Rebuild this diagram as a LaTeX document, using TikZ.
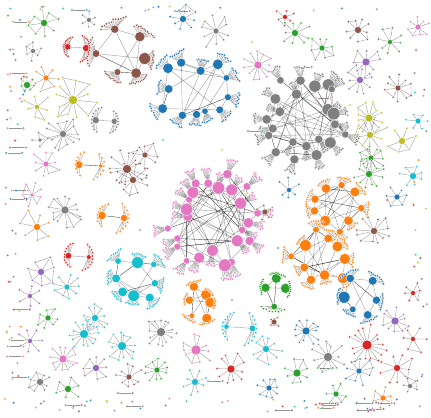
\documentclass[tikz,border=0pt]{standalone}
\usepackage{tikz}
\usetikzlibrary{calc,positioning}

\definecolor{tblue}{HTML}{1F77B4}
\definecolor{torange}{HTML}{FF7F0E}
\definecolor{tgreen}{HTML}{2CA02C}
\definecolor{tred}{HTML}{D62728}
\definecolor{tpurple}{HTML}{9467BD}
\definecolor{tbrown}{HTML}{8C564B}
\definecolor{tpink}{HTML}{E377C2}
\definecolor{tgray}{HTML}{7F7F7F}
\definecolor{tolive}{HTML}{BCBD22}
\definecolor{tcyan}{HTML}{17BECF}

\pgfdeclarelayer{bg}
\pgfsetlayers{bg,main}

\tikzset{
    hub/.style={circle, inner sep=0pt, draw=white, line width=0.3pt, minimum size=#1*0.85pt},
    leaf/.style={circle, inner sep=0pt, draw=white, line width=0.25pt, minimum size=2.3pt},
    link/.style={draw=black, draw opacity=0.42, line width=0.3pt}
}

\pgfmathdeclarerandomlist{tabcolors}{{tblue}{torange}{tgreen}{tred}{tpurple}{tbrown}{tpink}{tgray}{tolive}{tcyan}}

% star: id, x, y, colour, hub size, leaves, radius
\newcommand\hubstar[7]{%
    \node[hub=#5, fill=#4] (#1) at (#2,#3) {};
    \pgfmathsetmacro\off{360*rnd}
    \foreach \i in {1,...,#6} {
        \pgfmathsetmacro\ang{\off+360*\i/#6+20*rnd}
        \pgfmathsetmacro\rad{#7*(0.6+0.45*rnd)}
        \node[leaf, fill=#4] (#1-\i) at ($(#1)+(\ang:\rad)$) {};
    }
    \begin{pgfonlayer}{bg}
    \foreach \i in {1,...,#6} {
        \draw[link] (#1) -- (#1-\i);
        \pgfmathtruncatemacro\nx{mod(\i,#6)+1}
        \pgfmathtruncatemacro\pick{rnd<0.3}
        \ifnum\pick=1 \draw[link] (#1-\i) -- (#1-\nx);\fi
    }
    \end{pgfonlayer}
}

% community: id, cx, cy, radius, colour, hubs, leaves per hub, links per hub, max hub size
\newcommand\community[9]{%
    \foreach \j in {1,...,#6} {
        \pgfmathsetmacro\ang{360*\j/#6+10*rnd}
        \pgfmathsetmacro\rad{#4*(0.42+0.43*rnd)}
        \pgfmathsetmacro\sz{#9*(0.5+0.5*rnd)}
        \node[hub=\sz, fill=#5] (#1h\j) at ($(#2,#3)+(\ang:\rad)$) {};
        \foreach \i in {1,...,#7} {
            \pgfmathsetmacro\la{\ang+(\i/#7-0.5)*0.75*360/#6}
            \pgfmathsetmacro\lr{\rad+#4*(0.2+0.05*rnd)}
            \node[leaf, fill=#5] (#1h\j-\i) at ($(#2,#3)+(\la:\lr)$) {};
        }
    }
    \begin{pgfonlayer}{bg}
    \foreach \j in {1,...,#6} {
        \foreach \i in {1,...,#7} {
            \draw[link] (#1h\j) -- (#1h\j-\i);
        }
        \foreach \m in {1,...,#8} {
            \pgfmathtruncatemacro\k{random(1,#6)}
            \ifnum\k=\j\else \draw[link] (#1h\j) -- (#1h\k);\fi
        }
    }
    \end{pgfonlayer}
}

\begin{document}
\begin{tikzpicture}[x=0.03cm, y=-0.03cm]
    \pgfmathsetseed{7}
    \begin{pgfonlayer}{bg}
    \fill[white] (0,0) rectangle (431,417);
    \end{pgfonlayer}
    \useasboundingbox (0,0) rectangle (431,417);

    % Large communities
    \community{pk}{215}{218}{62}{tpink}{24}{7}{3}{13}
    \community{gy}{305}{120}{56}{tgray}{22}{7}{3}{13}
    \community{bl}{198}{92}{46}{tblue}{12}{8}{2}{12}
    \community{br}{128}{57}{38}{tbrown}{6}{12}{2}{12}
    \community{ora}{336}{207}{33}{torange}{9}{7}{3}{12}
    \community{orb}{320}{258}{36}{torange}{10}{7}{3}{13}
    \community{cy}{135}{280}{36}{tcyan}{8}{9}{2}{12}
    \community{ob}{200}{302}{22}{torange}{6}{8}{2}{11}
    \community{bb}{360}{298}{28}{tblue}{6}{9}{2}{12}
    \community{gb}{275}{288}{22}{tgreen}{4}{9}{2}{11}
    \community{rt}{75}{48}{16}{tred}{2}{16}{1}{10}
    \community{rl}{78}{256}{18}{tred}{2}{11}{1}{9}
    \community{ol}{111}{217}{18}{torange}{2}{10}{1}{9}
    \community{om}{89}{165}{15}{torange}{2}{8}{1}{8}
    \community{gm}{106}{121}{18}{tgray}{2}{10}{1}{8}
    \community{cb}{238}{328}{18}{tcyan}{2}{10}{1}{8}

    % Stars
    \hubstar{s1}{44}{23}{tgreen}{7}{8}{15}
    \hubstar{s2}{33}{51}{tgray}{5}{6}{10}
    \hubstar{s3}{46}{78}{torange}{6}{7}{14}
    \hubstar{s4}{27}{85}{tgreen}{7}{7}{8}
    \hubstar{s5}{73}{100}{tolive}{9}{12}{24}
    \hubstar{s6}{37}{107}{tolive}{5}{7}{15}
    \hubstar{s7}{89}{20}{tgray}{5}{6}{9}
    \hubstar{s8}{183}{19}{tblue}{7}{8}{15}
    \hubstar{s9}{216}{31}{tgray}{6}{10}{18}
    \hubstar{s10}{258}{65}{tpink}{8}{12}{15}
    \hubstar{s11}{285}{17}{tred}{5}{6}{10}
    \hubstar{s12}{295}{33}{tgreen}{7}{9}{15}
    \hubstar{s13}{322}{48}{tgreen}{6}{8}{14}
    \hubstar{s14}{358}{30}{tbrown}{7}{9}{13}
    \hubstar{s15}{390}{42}{tgreen}{5}{8}{14}
    \hubstar{s16}{418}{27}{tpink}{6}{8}{11}
    \hubstar{s17}{366}{62}{tpurple}{8}{8}{16}
    \hubstar{s18}{360}{80}{tpurple}{7}{10}{15}
    \hubstar{s19}{398}{88}{tbrown}{6}{10}{15}
    \hubstar{s20}{369}{118}{tolive}{8}{12}{16}
    \hubstar{s21}{370}{135}{tolive}{7}{9}{18}
    \hubstar{s22}{402}{141}{tolive}{7}{6}{15}
    \hubstar{s23}{418}{121}{tcyan}{6}{6}{12}
    \hubstar{s24}{371}{158}{tgreen}{6}{12}{15}
    \hubstar{s25}{369}{174}{tgreen}{7}{12}{15}
    \hubstar{s26}{413}{176}{tcyan}{7}{7}{13}
    \hubstar{s27}{397}{197}{tblue}{6}{6}{12}
    \hubstar{s28}{46}{164}{tpink}{6}{9}{15}
    \hubstar{s29}{32}{195}{tpink}{4}{8}{12}
    \hubstar{s30}{65}{210}{tgray}{8}{14}{18}
    \hubstar{s31}{37}{227}{torange}{7}{7}{20}
    \hubstar{s32}{41}{272}{tpurple}{7}{7}{17}
    \hubstar{s33}{67}{287}{tcyan}{6}{9}{14}
    \hubstar{s34}{30}{296}{tpurple}{5}{6}{12}
    \hubstar{s35}{48}{318}{tgreen}{6}{7}{12}
    \hubstar{s36}{30}{341}{tpurple}{5}{7}{14}
    \hubstar{s37}{63}{359}{tpink}{8}{12}{15}
    \hubstar{s38}{96}{368}{tpurple}{7}{8}{13}
    \hubstar{s39}{40}{382}{tgray}{7}{8}{12}
    \hubstar{s40}{68}{389}{tgreen}{7}{6}{13}
    \hubstar{s41}{129}{377}{tbrown}{6}{9}{14}
    \hubstar{s42}{95}{318}{tcyan}{7}{10}{14}
    \hubstar{s43}{84}{334}{tcyan}{9}{14}{16}
    \hubstar{s44}{122}{346}{tcyan}{9}{12}{16}
    \hubstar{s45}{161}{332}{tgray}{9}{14}{18}
    \hubstar{s46}{196}{350}{tpink}{10}{10}{18}
    \hubstar{s47}{157}{370}{tgreen}{6}{10}{15}
    \hubstar{s48}{195}{382}{tcyan}{7}{8}{13}
    \hubstar{s49}{231}{369}{tred}{8}{10}{18}
    \hubstar{s50}{266}{349}{tcyan}{7}{9}{16}
    \hubstar{s51}{269}{388}{tblue}{6}{9}{13}
    \hubstar{s52}{274}{322}{tbrown}{6}{4}{6}
    \hubstar{s53}{297}{373}{tgreen}{8}{8}{15}
    \hubstar{s54}{395}{321}{tpurple}{8}{10}{16}
    \hubstar{s55}{367}{345}{tred}{10}{16}{20}
    \hubstar{s56}{413}{293}{tred}{5}{6}{12}
    \hubstar{s57}{413}{339}{tred}{5}{6}{15}
    \hubstar{s58}{397}{368}{tred}{7}{9}{17}
    \hubstar{s59}{328}{357}{tgray}{9}{12}{17}
    \hubstar{s60}{359}{371}{tblue}{6}{9}{15}
    \hubstar{s61}{336}{394}{tgreen}{6}{6}{13}
    \hubstar{s62}{410}{386}{tgray}{5}{5}{10}
    \hubstar{s63}{383}{398}{torange}{6}{6}{12}
    \hubstar{s64}{306}{331}{tblue}{8}{12}{15}
    \hubstar{s65}{289}{190}{tblue}{5}{6}{12}
    \hubstar{s66}{374}{231}{tbrown}{7}{12}{17}
    \hubstar{s67}{265}{212}{tbrown}{6}{5}{9}
    \hubstar{s68}{63}{134}{tgray}{7}{14}{18}
    \hubstar{s69}{127}{169}{tbrown}{9}{14}{20}
    \hubstar{s70}{133}{180}{tbrown}{7}{10}{18}
    \hubstar{s71}{145}{155}{tbrown}{6}{8}{14}
    \hubstar{s72}{40}{140}{tgray}{4}{4}{8}

    % Isolated nodes
    \foreach \i in {1,...,45} {
        \pgfmathrandomitem\c{tabcolors}
        \node[leaf, fill=\c] (dl\i) at ({5+20*rnd}, {8+400*rnd}) {};
    }
    \foreach \i in {1,...,40} {
        \pgfmathrandomitem\c{tabcolors}
        \node[leaf, fill=\c] (db\i) at ({30+390*rnd}, {398+14*rnd}) {};
    }
    \foreach \i in {1,...,22} {
        \pgfmathrandomitem\c{tabcolors}
        \node[leaf, fill=\c] (dr\i) at ({413+14*rnd}, {45+340*rnd}) {};
    }
    \foreach \i in {1,...,14} {
        \pgfmathrandomitem\c{tabcolors}
        \node[leaf, fill=\c] (dt\i) at ({40+360*rnd}, {4+7*rnd}) {};
    }
    \foreach \x/\y/\c [count=\i] in {222/150/tolive, 247/193/tolive, 278/248/tblue, 232/300/tpurple, 387/200/tred, 290/135/tpink, 163/140/tcyan, 252/42/tolive, 140/230/tgray, 350/105/tolive} {
        \node[leaf, fill=\c] (dm\i) at (\x,\y) {};
    }

    % Isolated pairs
    \foreach \i in {1,...,12} {
        \pgfmathrandomitem\c{tabcolors}
        \node[leaf, fill=\c] (pl\i) at ({6+8*rnd}, {20+380*rnd}) {};
        \node[leaf, fill=\c, right=11pt of pl\i] (ql\i) {};
    }
    \foreach \i in {1,...,10} {
        \pgfmathrandomitem\c{tabcolors}
        \node[leaf, fill=\c] (pb\i) at ({40+360*rnd}, {403+8*rnd}) {};
        \node[leaf, fill=\c, right=11pt of pb\i] (qb\i) {};
    }
    \foreach \x/\y/\c [count=\i] in {297/67/tgray, 248/131/tgreen, 316/98/tpink, 208/381/tgray, 72/10/tblue, 175/11/tgray, 318/368/tgreen, 118/393/tbrown} {
        \node[leaf, fill=\c] (pm\i) at (\x,\y) {};
        \node[leaf, fill=\c, right=10pt of pm\i] (qm\i) {};
    }
    \begin{pgfonlayer}{bg}
    \foreach \i in {1,...,12} {\draw[link] (pl\i) -- (ql\i);}
    \foreach \i in {1,...,10} {\draw[link] (pb\i) -- (qb\i);}
    \foreach \i in {1,...,8} {\draw[link] (pm\i) -- (qm\i);}
    \end{pgfonlayer}

\end{tikzpicture}
\end{document}
